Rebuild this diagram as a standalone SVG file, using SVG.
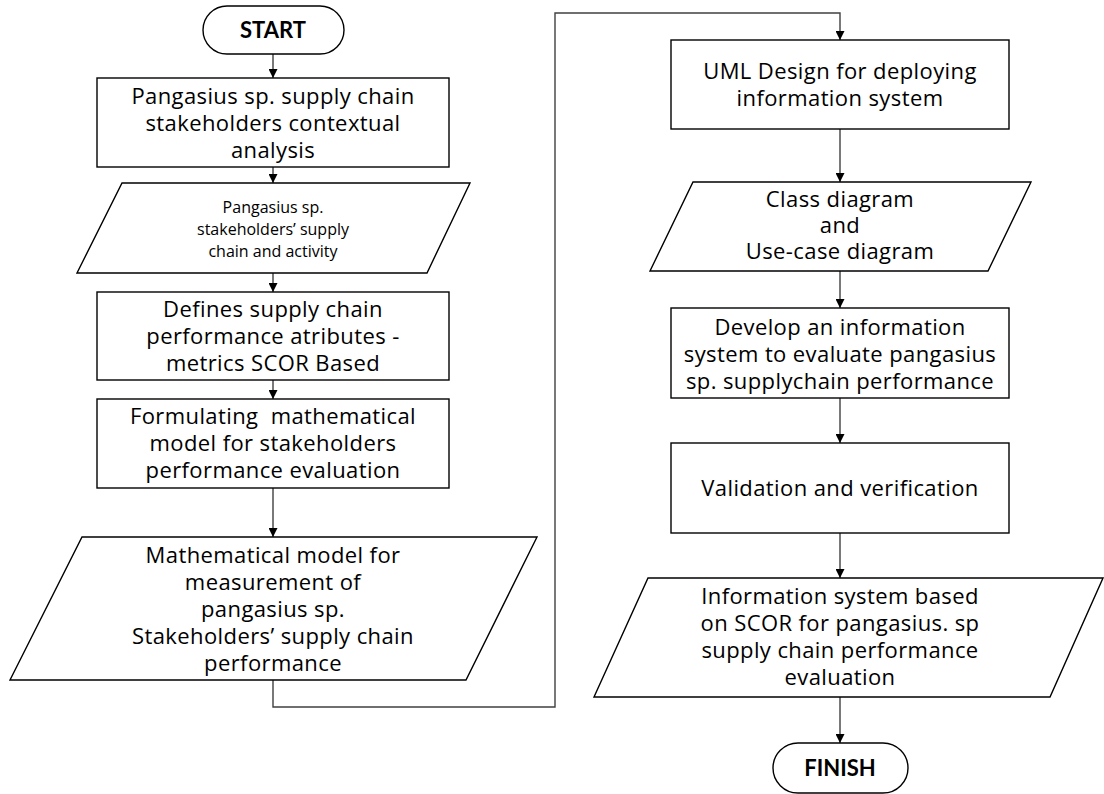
<svg xmlns="http://www.w3.org/2000/svg" width="1104" height="794" viewBox="0 0 1104 794">
  <style>
    .shape { fill: #ffffff; stroke: #000000; stroke-width: 1.4; }
    .conn { fill: none; stroke: #404040; stroke-width: 1.4; }
    .lbl { font-family: "Open Sans", "Liberation Sans", sans-serif; font-size: 22px; letter-spacing: 0.4px; fill: #000000; text-anchor: middle; }
    .small { font-size: 16px; letter-spacing: 0; }
    .bold { font-family: Lato, "Liberation Sans", sans-serif; font-weight: bold; font-size: 22px; letter-spacing: 0; }
  </style>
  <defs>
    <marker id="arrow" viewBox="0 0 10 10" refX="10" refY="5" markerWidth="9" markerHeight="9" markerUnits="userSpaceOnUse" orient="auto">
      <path d="M0,0 L10,5 L0,10 Z" fill="#000000"/>
    </marker>
  </defs>
  <rect width="1104" height="794" fill="#ffffff"/>

  <!-- connectors -->
  <g id="connectors">
    <line class="conn" x1="273" y1="54" x2="273" y2="78" marker-end="url(#arrow)"/>
    <line class="conn" x1="273" y1="167" x2="273" y2="183" marker-end="url(#arrow)"/>
    <line class="conn" x1="273" y1="273" x2="273" y2="292" marker-end="url(#arrow)"/>
    <line class="conn" x1="273" y1="380" x2="273" y2="399" marker-end="url(#arrow)"/>
    <line class="conn" x1="273" y1="488" x2="273" y2="537" marker-end="url(#arrow)"/>
    <polyline class="conn" points="273,680 273,707 555,707 555,13 840,13 840,40" marker-end="url(#arrow)"/>
    <line class="conn" x1="840" y1="129" x2="840" y2="182" marker-end="url(#arrow)"/>
    <line class="conn" x1="840" y1="271" x2="840" y2="308" marker-end="url(#arrow)"/>
    <line class="conn" x1="840" y1="398" x2="840" y2="443" marker-end="url(#arrow)"/>
    <line class="conn" x1="840" y1="533" x2="840" y2="578" marker-end="url(#arrow)"/>
    <line class="conn" x1="840" y1="697" x2="840" y2="743" marker-end="url(#arrow)"/>
  </g>

  <!-- left column -->
  <g id="start">
    <rect class="shape" x="203" y="6" width="141" height="48" rx="24" ry="24"/>
    <text class="lbl bold" x="273" y="38">START</text>
  </g>

  <g id="contextual-analysis">
    <rect class="shape" x="97" y="78" width="352" height="89"/>
    <text class="lbl" x="273" y="104">Pangasius sp. supply chain</text>
    <text class="lbl" x="273" y="131">stakeholders contextual</text>
    <text class="lbl" x="273" y="158">analysis</text>
  </g>

  <g id="stakeholder-activity">
    <polygon class="shape" points="122,183 470,183 427,273 77,273"/>
    <text class="lbl small" x="273" y="213">Pangasius sp.</text>
    <text class="lbl small" x="273" y="235">stakeholders’ supply</text>
    <text class="lbl small" x="273" y="257">chain and activity</text>
  </g>

  <g id="performance-attributes">
    <rect class="shape" x="97" y="292" width="352" height="88"/>
    <text class="lbl" x="273" y="317">Defines supply chain</text>
    <text class="lbl" x="273" y="344">performance atributes -</text>
    <text class="lbl" x="273" y="371">metrics SCOR Based</text>
  </g>

  <g id="model-formulation">
    <rect class="shape" x="97" y="399" width="352" height="89"/>
    <text class="lbl" x="273" y="424" xml:space="preserve">Formulating  mathematical</text>
    <text class="lbl" x="273" y="451">model for stakeholders</text>
    <text class="lbl" x="273" y="478">performance evaluation</text>
  </g>

  <g id="measurement-model">
    <polygon class="shape" points="82,537 537,537 466,680 10,680"/>
    <text class="lbl" x="273" y="563">Mathematical model for</text>
    <text class="lbl" x="273" y="590">measurement of</text>
    <text class="lbl" x="273" y="617">pangasius sp.</text>
    <text class="lbl" x="273" y="644">Stakeholders’ supply chain</text>
    <text class="lbl" x="273" y="671">performance</text>
  </g>

  <!-- right column -->
  <g id="uml-design">
    <rect class="shape" x="671" y="40" width="338" height="89"/>
    <text class="lbl" x="840" y="79">UML Design for deploying</text>
    <text class="lbl" x="840" y="106">information system</text>
  </g>

  <g id="uml-diagrams">
    <polygon class="shape" points="693,182 1031,182 988,271 650,271"/>
    <text class="lbl" x="840" y="207">Class diagram</text>
    <text class="lbl" x="840" y="233">and</text>
    <text class="lbl" x="840" y="259">Use-case diagram</text>
  </g>

  <g id="develop-system">
    <rect class="shape" x="671" y="308" width="338" height="90"/>
    <text class="lbl" x="840" y="335">Develop an information</text>
    <text class="lbl" x="840" y="362">system to evaluate pangasius</text>
    <text class="lbl" x="840" y="389">sp. supplychain performance</text>
  </g>

  <g id="validation">
    <rect class="shape" x="671" y="443" width="338" height="90"/>
    <text class="lbl" x="840" y="496">Validation and verification</text>
  </g>

  <g id="scor-system">
    <polygon class="shape" points="648,578 1103,578 1050,697 594,697"/>
    <text class="lbl" x="840" y="604">Information system based</text>
    <text class="lbl" x="840" y="631">on SCOR for pangasius. sp</text>
    <text class="lbl" x="840" y="658">supply chain performance</text>
    <text class="lbl" x="840" y="685">evaluation</text>
  </g>

  <g id="finish">
    <rect class="shape" x="773" y="743" width="135" height="50" rx="25" ry="25"/>
    <text class="lbl bold" x="840" y="776">FINISH</text>
  </g>
</svg>
